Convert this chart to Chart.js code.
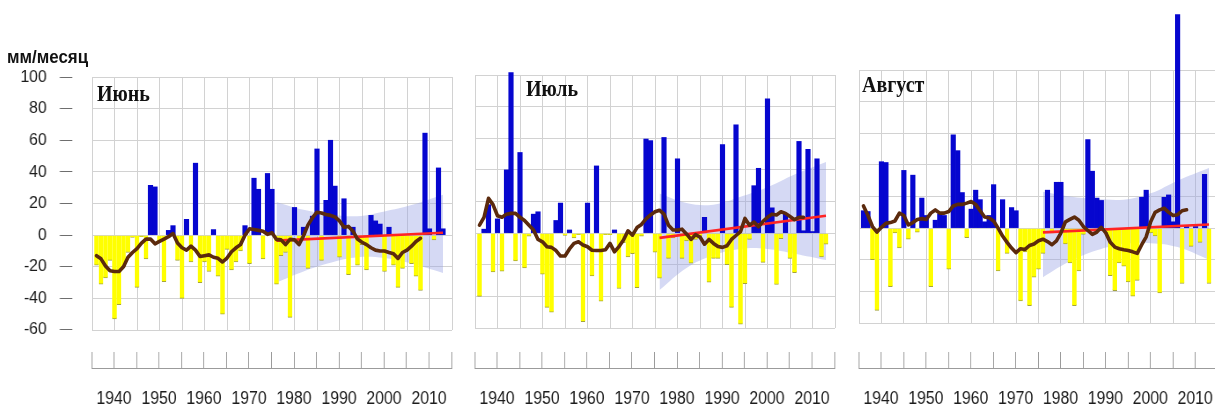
<!DOCTYPE html>
<html lang="ru">
<head>
<meta charset="utf-8">
<title>Аномалии осадков: июнь, июль, август</title>
<script src="https://cdn.jsdelivr.net/npm/chart.js@4.4.1/dist/chart.umd.min.js"></script>
<style>
  html, body { margin: 0; padding: 0; background: #fff; }
  #stage { position: relative; width: 1215px; height: 406px; overflow: hidden; background: #fff; }
  #stage canvas { position: absolute; }
  .unit {
    position: absolute; left: 7px; top: 47px; z-index: 5; white-space: nowrap; line-height: 1;
    font: bold 18px 'Liberation Sans', Arial, sans-serif; color: #111;
    transform-origin: 0 0; transform: scaleX(0.94);
  }
  .month {
    position: absolute; z-index: 5; white-space: nowrap; line-height: 1;
    font: bold 20px 'Liberation Serif', 'Times New Roman', serif; color: #111;
    transform-origin: 0 0; transform: scaleY(1.2);
  }
</style>
</head>
<body>
<div id="stage">
  <canvas id="yAxisJune"></canvas>
  <canvas id="plotJune"></canvas>
  <canvas id="plotJuly"></canvas>
  <canvas id="plotAug"></canvas>
  <canvas id="xAxisJune"></canvas>
  <canvas id="xAxisJuly"></canvas>
  <canvas id="xAxisAug"></canvas>
  <div class="unit">мм/месяц</div>
  <div class="month" style="left:97px;top:79px">Июнь</div>
  <div class="month" style="left:526px;top:74px">Июль</div>
  <div class="month" style="left:862px;top:70px">Август</div>
</div>
<script>
// ---------- data: precipitation anomalies, mm/month ----------
const years = [
  1936, 1937, 1938, 1939, 1940, 1941, 1942, 1943, 1944, 1945,
  1946, 1947, 1948, 1949, 1950, 1951, 1952, 1953, 1954, 1955,
  1956, 1957, 1958, 1959, 1960, 1961, 1962, 1963, 1964, 1965,
  1966, 1967, 1968, 1969, 1970, 1971, 1972, 1973, 1974, 1975,
  1976, 1977, 1978, 1979, 1980, 1981, 1982, 1983, 1984, 1985,
  1986, 1987, 1988, 1989, 1990, 1991, 1992, 1993, 1994, 1995,
  1996, 1997, 1998, 1999, 2000, 2001, 2002, 2003, 2004, 2005,
  2006, 2007, 2008, 2009, 2010, 2011, 2012, 2013
];

const juneAnom = [
  -19, -31, -27, -16, -53, -44, -20, -11, -1.5, -33,
  -1, -15, 31.5, 30.5, -4, -29.5, 3, 6, -16, -40,
  10, -17, 45.5, -30, -17, -23, 3.5, -26, -50, -9,
  -22, -17, -10, 6, -18, 36, 29, -15, 39, 29,
  -31, -13, -11, -52, 17.5, -4, 5, -21, 12, 54.5,
  -16, 22, 60, 31, -14, 23, -25, 5, -19, -6,
  -22, 12.5, 9, 7, -23, 5, -19, -33, -21, -10,
  -18, -26, -35, 64.5, 4, -3, 42.5, 4
];

const julyAnom = [
  -40, 2.5, 18, -24.5, 9, -24, 40, 101.5, -17.5, 51,
  -22, -2, 12, 13.5, -26, -47, -50, 8, 19, -1.5,
  2, -3, -1, -56, 19, -27, 42.5, -43, -1, -1,
  2, -35, -6, -15, -13, -34.5, -2, 59.5, 58.5, -12,
  -28.5, 60.5, -16, -3, 47, -16, -5, -19, -4, -2,
  10, -31, -16, -16, 56, -20, -47, 68.5, -57.5, -32,
  -4, 30, 41, -18.5, 85, 16, -32.5, -3.5, 12, -16,
  -25, 58, 1.5, 53, 1, 47, -15, -7
];

const augAnom = [
  11, 10.5, -20, -52, 42, 41.5, -37, -3, -12.5, 36.5,
  -7, 33.5, -2.5, 19, 8, -37, 5, 9, 8, -26,
  59, 49, 22.5, -6, 12, 24, 18, 4, 8, 27.5,
  -27, 18, -16, 13, 11, -46, -15, -49, -31, -26,
  -16, 24, -3, 29, 29, -10, -22, -49, -27, -4,
  56, 36, 19, 17.5, -3, -30, -39.5, -22, -24, -34,
  -43, -33, 19.5, 24, -3, -5, -41, 19.5, 21, 4,
  135, -35, 1, -11.5, 1, -9, 34, -35
];

// running mean curve
const smoothYears = [
  1936, 1937, 1938, 1939, 1940, 1941, 1942, 1943, 1944, 1945,
  1946, 1947, 1948, 1949, 1950, 1951, 1952, 1953, 1954, 1955,
  1956, 1957, 1958, 1959, 1960, 1961, 1962, 1963, 1964, 1965,
  1966, 1967, 1968, 1969, 1970, 1971, 1972, 1973, 1974, 1975,
  1976, 1977, 1978, 1979, 1980, 1981, 1982, 1983, 1984, 1985,
  1986, 1987, 1988, 1989, 1990, 1991, 1992, 1993, 1994, 1995,
  1996, 1997, 1998, 1999, 2000, 2001, 2002, 2003, 2004, 2005,
  2006, 2007, 2008
];

const juneSmooth = [
  -13, -15, -19.5, -22.5, -23, -23, -20, -14, -11, -8.5,
  -5, -2.5, -2.5, -5.5, -4, -2.5, -1, 1, -5, -8,
  -9.5, -7, -9.5, -13.5, -13, -12.5, -14, -14.7, -17, -14.5,
  -10.5, -8, -6, 0, 4, 3.5, 3, 2.5, 0.5, 1.5,
  -2.7, -3, -6, -2.7, -3, -6, -0.5, 6.5, 11, 14.5,
  14, 13, 12.5, 11.5, 9, 5, 5.5, 2.5, -2.5, -4.5,
  -6, -8, -9.5, -10, -10, -11, -11.8, -14.7, -11, -9.5,
  -7, -4, -2
];

const julySmooth = [
  5, 10, 22, 18, 11, 10, 12, 12.5, 12.5, 10,
  8, 5, 2, -4, -5.5, -8.6, -9, -11, -14.5, -14.5,
  -10, -6.5, -5.5, -7.5, -8.6, -10.8, -11, -11, -10.5, -6.5,
  -11.8, -8.5, -4.4, 1.5, -1.3, 3.5, 5.5, 9, 11.5, 13.5,
  14.5, 12, 5, 2, 2, 2.5, -0.5, -4, -1, -2.5,
  -7, -4, -6.5, -8.5, -9, -8, -4, -1.5, 1, 9.3,
  5, 7, 4, 7.5, 10, 12, 11.5, 13.5, 12.5, 10.5,
  8.5, 10, 10
];

const augSmooth = [
  14, 8, 1, -2.5, 0.5, 3, 3.5, 4.5, 9.5, 8,
  2, 3.5, 5.5, 6, 5.5, 9.5, 11.5, 9.5, 9.5, 10.5,
  14, 15, 15, 15.8, 16.8, 15, 11, 7, 6.5, 4.5,
  0, -5, -9, -12.6, -15.5, -13, -13.5, -11, -10, -8,
  -7, -8.5, -10.5, -8, -3, 4, 5.5, 7, 5, 1,
  -1.5, -4, -2.5, 0.5, -3, -9, -12, -13, -13.7, -14.2,
  -15, -16, -10.5, -5.5, 4, 10, 11.5, 12.6, 10, 8,
  8.5, 11, 11.6
];

// linear trend since 1976 and its confidence band
const trendYears = [1976, 2013];
const juneTrend = [-3.5, 1.5];
const julyTrend = [-3, 11];
const augTrend = [-2.7, 2.3];

const bandYears = [1976, 1982, 1988, 1994, 2000, 2006, 2013];
const juneBandHi = [21, 16, 13, 12, 15, 19, 25.5];
const juneBandLo = [-30, -23, -17.5, -14, -14.5, -18, -24];
const julyBandHi = [25, 19, 18, 23, 29, 37, 45];
const julyBandLo = [-36, -22, -14, -10, -10, -13, -17];
const augBandHi = [23, 20, 18.5, 18, 22, 30, 38];
const augBandLo = [-31, -21, -14, -10, -9.5, -12, -20];

const xTickLabels = [1940, 1950, 1960, 1970, 1980, 1990, 2000, 2010];
const yTickLabels = [-60, -40, -20, 0, 20, 40, 60, 80, 100];

// ---------- styling ----------
const SANS = "'Liberation Sans', Arial, sans-serif";
const C = {
  blue: '#0606cf',
  yellow: '#ffff00',
  yellowEdge: '#a4a43c',
  brown: '#5b2a0d',
  red: '#ff2424',
  band: 'rgba(150, 160, 228, 0.40)',
  grid: '#d2d2d2',
  axis: '#9b9b9b',
  tick: '#6e6e6e',
  text: '#1c1c1c'
};

const pts = (xs, ys) => xs.map((x, i) => ({ x: x, y: ys[i] }));
const isNeg = c => c.raw && c.raw.y < 0;

const baseOptions = () => ({
  responsive: false,
  maintainAspectRatio: false,
  animation: false,
  events: [],
  plugins: { legend: { display: false }, tooltip: { enabled: false } }
});

function panelConfig(anom, smooth, trend, hi, lo, padTop) {
  return () => ({
    type: 'bar',
    data: {
      datasets: [
        { type: 'line', data: pts(smoothYears, smooth), borderColor: C.brown, borderWidth: 3.6,
          pointRadius: 0, tension: 0, borderJoinStyle: 'round', borderCapStyle: 'round', order: 0 },
        { type: 'line', data: pts(trendYears, trend), borderColor: C.red, borderWidth: 2.6,
          pointRadius: 0, order: 1 },
        { type: 'bar', data: pts(years, anom),
          backgroundColor: c => isNeg(c) ? C.yellow : C.blue,
          borderColor: C.yellowEdge,
          borderWidth: c => isNeg(c) ? { top: 0, left: 0, right: 0, bottom: 1 } : 0,
          borderSkipped: false, barPercentage: 1, categoryPercentage: 1, clip: false, order: 2 },
        { type: 'line', data: pts(bandYears, hi), borderColor: 'rgba(0,0,0,0)', borderWidth: 0,
          backgroundColor: C.band, fill: '+1', pointRadius: 0, tension: 0.4, order: 3 },
        { type: 'line', data: pts(bandYears, lo), borderColor: 'rgba(0,0,0,0)', borderWidth: 0,
          fill: false, pointRadius: 0, tension: 0.4, order: 3 }
      ]
    },
    options: Object.assign(baseOptions(), {
      layout: { padding: { top: padTop, left: 2, right: 2, bottom: 2 } },
      scales: {
        x: { type: 'linear', min: 1935, max: 2015, offset: false,
             ticks: { display: false, stepSize: 5 },
             grid: { offset: false, color: C.grid, lineWidth: 1, drawTicks: false },
             border: { display: false } },
        y: { type: 'linear', min: -60, max: 100,
             ticks: { display: false, stepSize: 20 },
             grid: { color: C.grid, lineWidth: 1, drawTicks: false },
             border: { display: false } }
      }
    })
  });
}

// Separate year axis under each panel: an axis line with short upward ticks
// (top-positioned scale) and a label-only scale underneath it.
function xStripConfig() {
  return () => ({
    type: 'line',
    data: { datasets: [] },
    options: Object.assign(baseOptions(), {
      layout: { padding: { top: 0, left: 4, right: 4, bottom: 0 } },
      scales: {
        x: { type: 'linear', position: 'top', min: 1935, max: 2015, offset: false,
             ticks: { display: false, stepSize: 5, autoSkip: false },
             grid: { display: true, drawOnChartArea: false, drawTicks: true, tickLength: 16,
                     color: C.axis, lineWidth: 1 },
             border: { display: true, color: C.axis, width: 1 } },
        xLabels: { type: 'linear', axis: 'x', position: 'bottom', min: 1935, max: 2015, offset: false,
             ticks: { stepSize: 5, autoSkip: false, maxRotation: 0, padding: 4, color: C.text,
                      font: { family: SANS, size: 18 },
                      callback: v => xTickLabels.includes(v) ? String(v) : '' },
             grid: { display: false, drawTicks: false },
             border: { display: false } },
        y: { type: 'linear', display: false, min: 0, max: 1 }
      }
    })
  });
}

// Value axis left of the first panel, detached from the plot: tick marks
// and labels sit outside an empty plotting area.
function yStripConfig() {
  return () => ({
    type: 'line',
    data: { datasets: [] },
    options: Object.assign(baseOptions(), {
      layout: { padding: { top: 2, left: 2, right: 0, bottom: 2 } },
      scales: {
        x: { type: 'linear', display: false, min: 0, max: 1 },
        y: { type: 'linear', position: 'left', min: -60, max: 100,
             ticks: { stepSize: 20, padding: 14, color: C.text, font: { family: SANS, size: 17 },
                      callback: v => yTickLabels.includes(v) ? String(v) : '' },
             grid: { display: true, drawOnChartArea: false, drawTicks: true, tickLength: 13,
                     color: C.tick, lineWidth: 1 },
             border: { display: false } }
      }
    })
  });
}

// Create a chart whose plotting area lands on the given page box.
// sx < 1 narrows the whole canvas horizontally (condensed lettering).
function mount(id, area, makeConfig, sx, guess) {
  sx = sx || 1;
  const cv = document.getElementById(id);
  const w = (area.r - area.l) / sx, h = area.b - area.t;
  let ins = Object.assign({ l: 4, t: 4, r: 4, b: 4 }, guess || {});
  let chart = null;
  for (let pass = 0; pass < 4; pass++) {
    const cw = Math.round(w + ins.l + ins.r), ch = Math.round(h + ins.t + ins.b);
    cv.width = cw; cv.height = ch;
    cv.style.width = cw + 'px'; cv.style.height = ch + 'px';
    chart = new Chart(cv, makeConfig());
    const a = chart.chartArea;
    const got = { l: a.left, t: a.top, r: cw - a.right, b: ch - a.bottom };
    const same = Math.abs(got.l - ins.l) < 0.5 && Math.abs(got.t - ins.t) < 0.5 &&
                 Math.abs(got.r - ins.r) < 0.5 && Math.abs(got.b - ins.b) < 0.5;
    ins = got;
    if (same || pass === 3) break;
    chart.destroy();
  }
  cv.style.transformOrigin = '0 0';
  cv.style.transform = 'scaleX(' + sx + ')';
  cv.style.left = (area.l - ins.l * sx) + 'px';
  cv.style.top = Math.round(area.t - ins.t) + 'px';
  return chart;
}

mount('yAxisJune', { l: 72, t: 77, r: 132, b: 330 }, yStripConfig(), 0.93,
      { l: 60, t: 12, r: 0, b: 12 });

mount('plotJune', { l: 92, t: 77, r: 452, b: 330 },
      panelConfig(juneAnom, juneSmooth, juneTrend, juneBandHi, juneBandLo, 4));
mount('plotJuly', { l: 475, t: 75, r: 835, b: 328 },
      panelConfig(julyAnom, julySmooth, julyTrend, julyBandHi, julyBandLo, 10));
mount('plotAug', { l: 859, t: 70, r: 1218, b: 323 },
      panelConfig(augAnom, augSmooth, augTrend, augBandHi, augBandLo, 62));

const xGuess = { l: 4, t: 16, r: 4, b: 30 };
mount('xAxisJune', { l: 92, t: 368, r: 452, b: 384 }, xStripConfig(), 0.88, xGuess);
mount('xAxisJuly', { l: 475, t: 368, r: 835, b: 384 }, xStripConfig(), 0.88, xGuess);
mount('xAxisAug', { l: 859, t: 368, r: 1218, b: 384 }, xStripConfig(), 0.88, xGuess);
</script>
</body>
</html>
